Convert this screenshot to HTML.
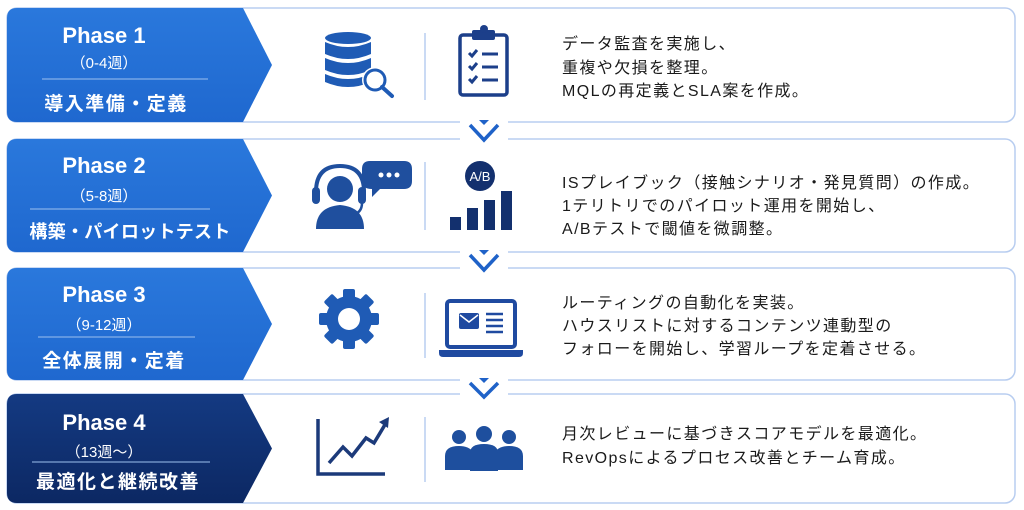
<!DOCTYPE html>
<html><head><meta charset="utf-8"><style>
html,body{margin:0;padding:0;background:#fff;width:1024px;height:510px;overflow:hidden}
svg text{font-family:"Liberation Sans","Noto Sans CJK JP",sans-serif}
</style></head><body>
<svg width="1024" height="510" viewBox="0 0 1024 510" xmlns="http://www.w3.org/2000/svg">
<defs>
<linearGradient id="gb" x1="0" y1="0" x2="0" y2="1"><stop offset="0" stop-color="#2a78dc"/><stop offset="1" stop-color="#1f68cf"/></linearGradient>
<linearGradient id="gd" x1="0" y1="0" x2="0" y2="1"><stop offset="0" stop-color="#143a82"/><stop offset="1" stop-color="#0c2863"/></linearGradient>
</defs>
<g fill="#fff" stroke="#b8cdf0" stroke-width="1.5">
<rect x="7" y="8" width="1008" height="114" rx="10"/>
<rect x="7" y="139" width="1008" height="113" rx="10"/>
<rect x="7" y="268" width="1008" height="112" rx="10"/>
<rect x="7" y="394" width="1008" height="109" rx="10"/>
</g>
<path d="M17 8H243L272 65L243 122H17Q7 122 7 112V18Q7 8 17 8Z" fill="url(#gb)"/>
<path d="M17 139H243L272 195.5L243 252H17Q7 252 7 242V149Q7 139 17 139Z" fill="url(#gb)"/>
<path d="M17 268H243L272 324L243 380H17Q7 380 7 370V278Q7 268 17 268Z" fill="url(#gb)"/>
<path d="M17 394H243L272 448.5L243 503H17Q7 503 7 493V404Q7 394 17 394Z" fill="url(#gd)"/>
<g fill="#fff" text-anchor="middle">
<text x="104" y="43" font-size="22" font-weight="bold">Phase 1</text>
<text x="104" y="68" font-size="15">（0-4週）</text>
<text x="116" y="110" font-size="19" font-weight="bold" letter-spacing="1.5">導入準備・定義</text>
<text x="104" y="173" font-size="22" font-weight="bold">Phase 2</text>
<text x="104" y="201" font-size="15">（5-8週）</text>
<text x="130" y="238" font-size="18" font-weight="bold" letter-spacing="0.3">構築・パイロットテスト</text>
<text x="104" y="302" font-size="22" font-weight="bold">Phase 3</text>
<text x="104" y="330" font-size="15">（9-12週）</text>
<text x="114" y="367" font-size="19" font-weight="bold" letter-spacing="1.5">全体展開・定着</text>
<text x="104" y="430" font-size="22" font-weight="bold">Phase 4</text>
<text x="104" y="457" font-size="15">（13週〜）</text>
<text x="118" y="488" font-size="19" font-weight="bold" letter-spacing="1.5">最適化と継続改善</text>
</g>
<g stroke="#9cc0ee" stroke-width="1">
<line x1="42" y1="79" x2="208" y2="79"/>
<line x1="30" y1="209" x2="210" y2="209"/>
<line x1="38" y1="337" x2="195" y2="337"/>
<line x1="32" y1="462" x2="210" y2="462"/>
</g>
<g stroke="#b8cdf0" stroke-width="1.5">
<line x1="425" y1="33" x2="425" y2="100"/>
<line x1="425" y1="162" x2="425" y2="230"/>
<line x1="425" y1="293" x2="425" y2="358"/>
<line x1="425" y1="417" x2="425" y2="482"/>
</g>
<g>
<rect x="460" y="118" width="48" height="26" fill="#fff"/>
<rect x="460" y="248" width="48" height="24" fill="#fff"/>
<rect x="460" y="376" width="48" height="22" fill="#fff"/>
<g fill="none" stroke="#1f62c8" stroke-width="3.5">
<polyline points="470,125 484,140 498,125"/>
<polyline points="470,255 484,270 498,255"/>
<polyline points="470,383 484,397 498,383"/>
</g>
<g fill="#1f62c8">
<path d="M479 120h10l-5 5z"/><path d="M479 250h10l-5 5z"/><path d="M479 378h10l-5 5z"/>
</g>
</g>
<g fill="#1f5bb5">
<ellipse cx="348" cy="38" rx="23" ry="6"/>
<path d="M325 42q23 10 46 0v12q-23 10 -46 0z"/>
<path d="M325 58q23 10 46 0v12q-23 10 -46 0z"/>
<path d="M325 74q23 10 46 0v8q-23 10 -46 0z"/>
</g>
<circle cx="375" cy="80" r="13" fill="#fff"/>
<circle cx="375" cy="80" r="10" fill="none" stroke="#1f5bb5" stroke-width="3"/>
<line x1="382" y1="87" x2="392" y2="96" stroke="#1f5bb5" stroke-width="4" stroke-linecap="round"/>
<g fill="none" stroke="#1c3f8a" stroke-width="3.5">
<rect x="460" y="35" width="47" height="60" rx="3"/>
</g>
<rect x="472" y="30" width="23" height="10" rx="2" fill="#1c3f8a"/>
<circle cx="484" cy="29" r="4" fill="#1c3f8a"/>
<g stroke="#1c3f8a" stroke-width="3" fill="none">
<polyline points="469,53 472,56 477,50"/><line x1="482" y1="54" x2="498" y2="54"/>
<polyline points="469,66 472,69 477,63"/><line x1="482" y1="67" x2="498" y2="67"/>
<polyline points="469,79 472,82 477,76"/><line x1="482" y1="80" x2="498" y2="80"/>
</g>
<g fill="#1f4f9e">
<circle cx="340" cy="189" r="13"/>
<path d="M316 229q0-22 24-24q24 2 24 24z"/>
<rect x="312" y="187" width="8" height="17" rx="4"/>
<rect x="358" y="187" width="8" height="17" rx="4"/>
<path d="M370 161h34q8 0 8 8v12q0 8-8 8h-24l-8 8v-8q-10 0-10-8v-12q0-8 8-8z"/>
</g>
<path d="M316 192q0-26 24-26q24 0 24 26" fill="none" stroke="#1f4f9e" stroke-width="4"/>
<path d="M362 203q0 10-10 12" fill="none" stroke="#1f4f9e" stroke-width="2.5"/>
<g fill="#fff"><circle cx="381" cy="175" r="2.5"/><circle cx="389" cy="175" r="2.5"/><circle cx="397" cy="175" r="2.5"/></g>
<circle cx="480" cy="176" r="15" fill="#13306e"/>
<text x="480" y="181" font-size="13" fill="#fff" text-anchor="middle">A/B</text>
<g fill="#13306e">
<rect x="450" y="217" width="11" height="13"/>
<rect x="467" y="208" width="11" height="22"/>
<rect x="484" y="200" width="11" height="30"/>
<rect x="501" y="191" width="11" height="39"/>
</g>
<g transform="translate(349,319)" fill="#1f5bb5">
<rect x="-6" y="-30" width="12" height="60" rx="2"/>
<rect x="-6" y="-30" width="12" height="60" rx="2" transform="rotate(45)"/>
<rect x="-6" y="-30" width="12" height="60" rx="2" transform="rotate(90)"/>
<rect x="-6" y="-30" width="12" height="60" rx="2" transform="rotate(135)"/>
<circle r="23"/>
<circle r="11" fill="#fff"/>
</g>
<rect x="447" y="301" width="68" height="46" rx="3" fill="none" stroke="#1f4aa0" stroke-width="4"/>
<path d="M439 350h84v3q0 4-4 4h-76q-4 0-4-4z" fill="#1f4aa0"/>
<rect x="459" y="313" width="20" height="16" rx="2" fill="#1f4aa0"/>
<polyline points="460,315 469,322 478,315" fill="none" stroke="#fff" stroke-width="1.5"/>
<g stroke="#1f4aa0" stroke-width="2.5"><line x1="486" y1="314" x2="503" y2="314"/><line x1="486" y1="320" x2="503" y2="320"/><line x1="486" y1="326" x2="503" y2="326"/><line x1="486" y1="332" x2="503" y2="332"/></g>
<polyline points="318,419 318,474 385,474" fill="none" stroke="#1c3a7a" stroke-width="3.5"/>
<polyline points="329,463 343,447 352,456 366,438 374,443 386,423" fill="none" stroke="#1c3a7a" stroke-width="3.5"/>
<path d="M379 422l10-5l-1 11z" fill="#1c3a7a"/>
<g fill="#1e4f9e">
<circle cx="459" cy="437" r="7"/><circle cx="484" cy="434" r="8"/><circle cx="509" cy="437" r="7"/>
<path d="M445 470v-14q0-10 14-10q10 0 14 6v18z"/>
<path d="M495 470v-18q4-6 14-6q14 0 14 10v14z"/>
<path d="M470 471v-18q0-9 14-9q14 0 14 9v18z"/>
</g>
<g fill="#1a1a1a" font-size="16" letter-spacing="1.4">
<text x="562" y="49">データ監査を実施し、</text>
<text x="562" y="73">重複や欠損を整理。</text>
<text x="562" y="96">MQLの再定義とSLA案を作成。</text>
<text x="562" y="188">ISプレイブック（接触シナリオ・発見質問）の作成。</text>
<text x="562" y="211">1テリトリでのパイロット運用を開始し、</text>
<text x="562" y="234">A/Bテストで閾値を微調整。</text>
<text x="562" y="308">ルーティングの自動化を実装。</text>
<text x="562" y="331">ハウスリストに対するコンテンツ連動型の</text>
<text x="562" y="354">フォローを開始し、学習ループを定着させる。</text>
<text x="562" y="439">月次レビューに基づきスコアモデルを最適化。</text>
<text x="562" y="463">RevOpsによるプロセス改善とチーム育成。</text>
</g>
</svg>
</body></html>
